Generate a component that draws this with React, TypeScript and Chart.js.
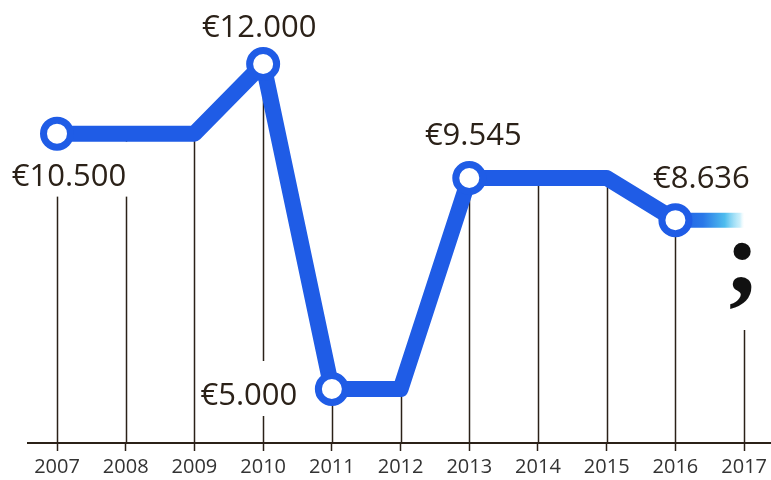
import React, { useEffect, useRef } from 'react';
import { Chart, registerables } from 'chart.js';

Chart.register(...registerables);

const years = ['2007', '2008', '2009', '2010', '2011', '2012', '2013', '2014', '2015', '2016', '2017'];
const prices: (number | null)[] = [10500, 10500, 10500, 12000, 5000, 5000, 9545, 9545, 9545, 8636, null];
const trendTail: (number | null)[] = [null, null, null, null, null, null, null, null, null, 8636, 8636];
const labeledIndices = [0, 3, 4, 6, 9];
const unknownMark = ';';

const BLUE = '#1f5ce6';
const INK = '#2b2118';
const LABEL_FONT = '31px "Open Sans"';

// label placement relative to its point (pixels)
const labelOffsets: Record<number, [number, number]> = {
  0: [12, 41],
  3: [-4, -38],
  4: [-83, 5],
  6: [4, -44],
  9: [26, -43],
};

function euro(v: number): string {
  return '€' + String(v).replace(/\B(?=(\d{3})+(?!\d))/g, '.');
}

function eachLabel(chart: any, fn: (text: string, cx: number, cy: number) => void) {
  const meta = chart.getDatasetMeta(0);
  labeledIndices.forEach((i) => {
    const el = meta.data[i];
    const v = prices[i];
    if (!el || v == null) return;
    const [dx, dy] = labelOffsets[i];
    fn(euro(v), el.x + dx, el.y + dy);
  });
}

const decorPlugin = {
  id: 'decor',
  beforeDatasetsDraw(chart: any) {
    const { ctx, chartArea } = chart;
    const xs = chart.scales.x;
    const ys = chart.scales.y;
    const bottom = chartArea.bottom;
    ctx.save();
    ctx.strokeStyle = INK;
    ctx.lineWidth = 1.5;
    prices.forEach((v, i) => {
      const x = Math.round(xs.getPixelForValue(i)) + 0.5;
      ctx.beginPath();
      if (v != null) {
        ctx.moveTo(x, ys.getPixelForValue(v));
      } else {
        ctx.moveTo(x, bottom - 113);
      }
      ctx.lineTo(x, bottom);
      ctx.stroke();
      if (v == null) {
        ctx.fillStyle = '#111';
        ctx.font = 'bold 106px "Liberation Serif"';
        ctx.textAlign = 'center';
        ctx.textBaseline = 'alphabetic';
        ctx.fillText(unknownMark, x - 2, bottom - 150);
      }
    });
    // axis line
    ctx.lineWidth = 2;
    ctx.beginPath();
    ctx.moveTo(27, bottom);
    ctx.lineTo(chart.width, bottom);
    ctx.stroke();
    // label backgrounds (under the line)
    ctx.font = LABEL_FONT;
    ctx.fillStyle = '#ffffff';
    eachLabel(chart, (text, cx, cy) => {
      const w = ctx.measureText(text).width;
      ctx.fillRect(cx - w / 2 - 3, cy - 33, w + 6, 55);
    });
    ctx.restore();
  },
  afterDatasetsDraw(chart: any) {
    const { ctx } = chart;
    ctx.save();
    ctx.font = LABEL_FONT;
    ctx.textAlign = 'center';
    ctx.textBaseline = 'alphabetic';
    ctx.fillStyle = INK;
    eachLabel(chart, (text, cx, cy) => {
      ctx.fillText(text, cx, cy + 11);
    });
    ctx.restore();
  },
};

export default function App() {
  const ref = useRef<HTMLCanvasElement>(null);

  useEffect(() => {
    if (!ref.current) return;
    const radii = prices.map((_, i) => (labeledIndices.includes(i) ? 13.5 : 0));
    const chart = new Chart(ref.current, {
      type: 'line',
      data: {
        labels: years,
        datasets: [
          {
            data: prices,
            borderColor: BLUE,
            borderWidth: 16,
            borderJoinStyle: 'round',
            borderCapStyle: 'round',
            pointRadius: radii,
            pointHoverRadius: radii,
            pointBorderWidth: 7,
            pointBackgroundColor: '#ffffff',
            pointBorderColor: BLUE,
            tension: 0,
            clip: false,
            spanGaps: false,
          } as any,
          {
            data: trendTail,
            borderWidth: 15,
            borderCapStyle: 'butt',
            pointRadius: 0,
            clip: false,
            borderColor: (c: any) => {
              const ch = c.chart;
              if (!ch.chartArea) return BLUE;
              const xs = ch.scales.x;
              const x0 = xs.getPixelForValue(9);
              const x1 = xs.getPixelForValue(10);
              const g = ch.ctx.createLinearGradient(x0, 0, x1, 0);
              g.addColorStop(0, BLUE);
              g.addColorStop(0.4, '#2a78e8');
              g.addColorStop(0.72, '#4fbdee');
              g.addColorStop(0.94, 'rgba(140,220,245,0.45)');
              g.addColorStop(1, 'rgba(200,240,250,0)');
              return g;
            },
          } as any,
        ],
      },
      options: {
        animation: false,
        responsive: false,
        devicePixelRatio: 1,
        layout: { autoPadding: false, padding: { left: 57, right: 24, top: 0, bottom: 0 } },
        plugins: { legend: { display: false }, tooltip: { enabled: false } },
        events: [],
        scales: {
          x: {
            type: 'category',
            offset: false,
            border: { display: false },
            grid: {
              drawOnChartArea: false,
              drawTicks: true,
              tickLength: 8,
              tickColor: INK,
              tickWidth: 1.5,
            },
            ticks: {
              color: '#333',
              font: { family: '"Open Sans"', size: 20 },
              padding: 4,
              maxRotation: 0,
              autoSkip: false,
            },
            afterFit: (s: any) => {
              s.height = 37;
            },
          },
          y: {
            display: false,
            min: 3837,
            max: 13378,
          },
        },
      },
      plugins: [decorPlugin],
    } as any);
    return () => chart.destroy();
  }, []);

  return (
    <canvas
      ref={ref}
      width={771}
      height={480}
      style={{ position: 'absolute', left: 0, top: 0, width: 771, height: 480, background: '#fff' }}
    />
  );
}
